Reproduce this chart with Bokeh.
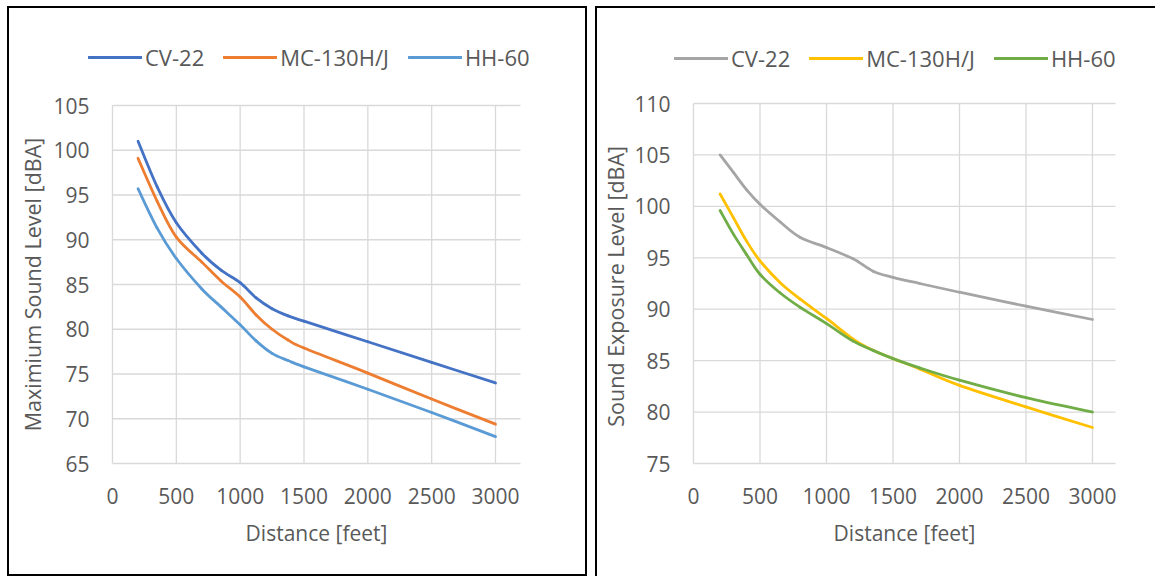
import math
from bokeh.plotting import figure
from bokeh.models import Range1d, Legend, LegendItem
from bokeh.core.properties import value
from bokeh.layouts import row
from bokeh.embed import file_html
from bokeh.resources import INLINE

# ---- Left chart: Maximum sound level ----
dist_left = [200, 350, 500, 700, 850, 1000, 1125, 1250, 1375, 1500, 2000, 2500, 3000]
lmax_cv22 = [101.0, 95.9, 91.9, 88.5, 86.6, 85.2, 83.5, 82.3, 81.5, 80.9, 78.6, 76.3, 74.0]
lmax_mc130 = [99.1, 94.3, 90.3, 87.5, 85.4, 83.6, 81.6, 80.0, 78.8, 77.9, 75.1, 72.2, 69.4]
lmax_hh60 = [95.7, 91.3, 87.9, 84.5, 82.5, 80.5, 78.7, 77.3, 76.5, 75.8, 73.3, 70.7, 68.0]

# ---- Right chart: Sound exposure level ----
dist_right = [200, 300, 400, 500, 650, 800, 1000, 1200, 1350, 1500, 1700, 2000, 2500, 3000]
sel_cv22 = [105.0, 103.3, 101.6, 100.2, 98.5, 97.0, 96.0, 94.9, 93.7, 93.1, 92.5, 91.65, 90.3, 89.0]
sel_mc130 = [101.2, 98.9, 96.6, 94.7, 92.6, 91.0, 89.1, 87.1, 86.0, 85.2, 84.2, 82.6, 80.5, 78.5]
sel_hh60 = [99.6, 97.3, 95.3, 93.4, 91.6, 90.2, 88.6, 86.9, 86.0, 85.2, 84.3, 83.1, 81.4, 80.0]

series_names = ["CV-22", "MC-130H/J", "HH-60"]
x_ticks = [0, 500, 1000, 1500, 2000, 2500, 3000]
left_y_ticks = [65, 70, 75, 80, 85, 90, 95, 100, 105]
right_y_ticks = [75, 80, 85, 90, 95, 100, 105, 110]
x_title = "Distance [feet]"
left_y_title = "Maximium Sound Level [dBA]"
right_y_title = "Sound Exposure  Level [dBA]"

FONT = "Open Sans"
TXT = "#595959"
GRID = "#D9D9D9"
FIG_H = 570
FIG_TOP = 6


def smooth_segments(xs, ys):
    """Excel-style smoothed line: cubic Bezier pieces between consecutive points."""
    n = len(xs)
    x0, y0, x1, y1, cx0, cy0, cx1, cy1 = [], [], [], [], [], [], [], []
    for i in range(n - 1):
        xa, ya = xs[i], ys[i]
        xb, yb = xs[i + 1], ys[i + 1]
        xp, yp = (xs[i - 1], ys[i - 1]) if i > 0 else (xa, ya)
        xn, yn = (xs[i + 2], ys[i + 2]) if i + 2 < n else (xb, yb)
        x0.append(xa); y0.append(ya); x1.append(xb); y1.append(yb)
        cx0.append(xa + (xb - xp) / 6.0); cy0.append(ya + (yb - yp) / 6.0)
        cx1.append(xb - (xn - xa) / 6.0); cy1.append(yb - (yn - ya) / 6.0)
    return dict(x0=x0, y0=y0, x1=x1, y1=y1, cx0=cx0, cy0=cy0, cx1=cx1, cy1=cy1)


def make_panel(fig_left, width, y_ticks, xs, ys_list, colors, y_title,
               px_x0, px_x3000, px_plot_right, px_ytop, px_ybot,
               ytitle_dx, legend_box_left, legend_box_bottom, shadow):
    fig_right = fig_left + width
    fig_bottom = FIG_TOP + FIG_H
    sx = (px_x3000 - px_x0) / 3000.0
    y_lo_v, y_hi_v = y_ticks[0], y_ticks[-1]
    sy = (px_ybot - px_ytop) / float(y_hi_v - y_lo_v)
    x_lo = -(px_x0 - fig_left) / sx
    x_hi = (fig_right - px_x0) / sx
    x_plot_end = (px_plot_right - px_x0) / sx
    y_top = y_hi_v + (px_ytop - FIG_TOP) / sy
    y_bot = y_lo_v - (fig_bottom - px_ybot) / sy

    p = figure(width=width, height=FIG_H, output_backend="svg", toolbar_location=None,
               title=None,
               x_range=Range1d(x_lo, x_hi), y_range=Range1d(y_bot, y_top),
               min_border=0)
    p.xaxis.visible = False
    p.yaxis.visible = False
    p.xgrid.visible = False
    p.ygrid.visible = False
    p.outline_line_color = None
    p.border_fill_color = None
    p.background_fill_color = None
    p.styles = {"box-shadow": shadow}

    # gridlines of the plot area
    n_x, n_y = len(x_ticks), len(y_ticks)
    p.segment(x0=x_ticks, y0=[y_lo_v] * n_x, x1=x_ticks, y1=[y_hi_v] * n_x,
              line_color=GRID, line_width=1.3)
    p.segment(x0=[0] * n_y, y0=y_ticks, x1=[x_plot_end] * n_y, y1=y_ticks,
              line_color=GRID, line_width=1.3)

    tf = value(FONT)
    # tick labels
    p.text(x=[0] * n_y, y=y_ticks, text=[str(t) for t in y_ticks],
           x_offset=-23, text_align="right", text_baseline="middle",
           text_font=tf, text_font_size="21px", text_color=TXT)
    p.text(x=x_ticks, y=[y_lo_v] * n_x, text=[str(t) for t in x_ticks],
           y_offset=32, text_align="center", text_baseline="middle",
           text_font=tf, text_font_size="21px", text_color=TXT)
    # axis titles
    p.text(x=[x_plot_end / 2.0], y=[y_lo_v], text=[x_title],
           y_offset=69, text_align="center", text_baseline="middle",
           text_font=tf, text_font_size="21px", text_color=TXT)
    p.text(x=[0], y=[(y_lo_v + y_hi_v) / 2.0], text=[y_title],
           x_offset=ytitle_dx, angle=math.pi / 2, text_align="center",
           text_baseline="middle",
           text_font=tf, text_font_size="21.5px", text_color=TXT)

    items = []
    for name, ys, c in zip(series_names, ys_list, colors):
        r = p.bezier(source=smooth_segments(xs, ys), x0="x0", y0="y0", x1="x1", y1="y1",
                     cx0="cx0", cy0="cy0", cx1="cx1", cy1="cy1",
                     line_color=c, line_width=2.8, line_cap="round")
        items.append(LegendItem(label=name, renderers=[r]))

    legend = Legend(items=items,
                    location=(legend_box_left - fig_left, fig_bottom - legend_box_bottom),
                    orientation="horizontal",
                    glyph_width=54, glyph_height=20, label_standoff=3, spacing=19,
                    padding=5, margin=0, border_line_color=None,
                    background_fill_alpha=0,
                    label_text_font=FONT, label_text_font_size="22px",
                    label_text_color=TXT)
    p.add_layout(legend)
    return p


left = make_panel(7, 580, left_y_ticks, dist_left,
                  [lmax_cv22, lmax_mc130, lmax_hh60],
                  ["#4472C4", "#ED7D31", "#5B9BD5"],
                  left_y_title,
                  112, 495, 520, 105, 463,
                  -80, 88, 72,
                  "inset 0 0 0 2px #000")

right = make_panel(595, 560, right_y_ticks, dist_right,
                   [sel_cv22, sel_mc130, sel_hh60],
                   ["#A5A5A5", "#FFC000", "#70AD47"],
                   right_y_title,
                   693, 1092, 1115, 103, 463,
                   -78, 674, 73,
                   "inset 2px 2px 0 0 #000")

layout = row(left, right, spacing=8, margin=(FIG_TOP, 0, 0, 7))
open("out.html", "w").write(file_html(layout, INLINE))
